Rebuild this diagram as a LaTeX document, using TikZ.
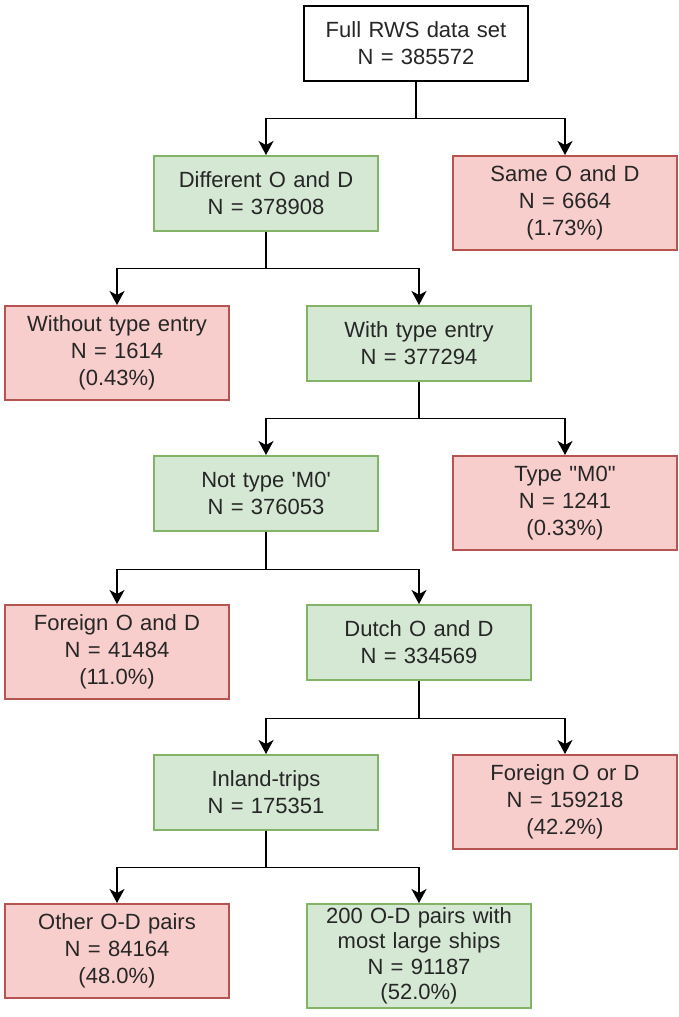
\documentclass[tikz,border=0pt]{standalone}
\usepackage{fontspec}
\setmainfont{Liberation Sans}[Ligatures=TeXOff]
\usetikzlibrary{arrows.meta}
\definecolor{okfill}{HTML}{D5E8D4}
\definecolor{okline}{HTML}{82B366}
\definecolor{dropfill}{HTML}{F8CECC}
\definecolor{dropline}{HTML}{B85450}
\definecolor{txt}{HTML}{262626}
\begin{document}
\begin{tikzpicture}[x=1pt,y=-1pt,
  box/.style={draw, line width=1.5pt, anchor=north, align=center,
    text width=210pt, inner xsep=7pt, inner ysep=1pt, text=txt,
    font=\fontsize{22}{27}\selectfont},
  plain/.style={box, fill=white, draw=black},
  keep/.style={box, fill=okfill, draw=okline},
  drop/.style={box, fill=dropfill, draw=dropline},
  two/.style={minimum height=75pt},
  three/.style={minimum height=94pt},
  four/.style={minimum height=104pt, font=\fontsize{22}{25.5}\selectfont},
  conn/.style={draw=black, line width=1.7pt,
    -{Stealth[length=14pt, width=15pt, inset=4pt]}}
]
\useasboundingbox (0,0) rectangle (678,1017);

% level 0
\node[plain, two] (full) at (416,5) {Full RWS data set\\N = 385572};
% level 1
\node[keep, two]   (diff) at (266,155) {Different O and D\\N = 378908};
\node[drop, three] (same) at (565,155) {Same O and D\\N = 6664\\(1.73\%)};
% level 2
\node[drop, three] (notype) at (117,305) {Without type entry\\N = 1614\\(0.43\%)};
\node[keep, two]   (type)   at (419,305) {With type entry\\N = 377294};
% level 3
\node[keep, two]   (notm) at (266,455) {Not type 'M0'\\N = 376053};
\node[drop, three] (mzero) at (565,455) {Type "M0"\\N = 1241\\(0.33\%)};
% level 4
\node[drop, three] (foreign) at (117,604) {Foreign O and D\\N = 41484\\(11.0\%)};
\node[keep, two]   (dutch)   at (419,604) {Dutch O and D\\N = 334569};
% level 5
\node[keep, two]   (inland) at (266,754) {Inland-trips\\N = 175351};
\node[drop, three] (ford)   at (565,754) {Foreign O or D\\N = 159218\\(42.2\%)};
% level 6
\node[drop, three] (other) at (117,903) {Other O-D pairs\\N = 84164\\(48.0\%)};
\node[keep, four]  (top)   at (419,903) {200 O-D pairs with\\most large ships\\N = 91187\\(52.0\%)};

% elbow connectors: down, across, down into each child
\draw[conn] (full.south) -- ++(0,37) -| (diff.north);
\draw[conn] (full.south) -- ++(0,37) -| (same.north);
\draw[conn] (diff.south) -- ++(0,37) -| (notype.north);
\draw[conn] (diff.south) -- ++(0,37) -| (type.north);
\draw[conn] (type.south) -- ++(0,37) -| (notm.north);
\draw[conn] (type.south) -- ++(0,37) -| (mzero.north);
\draw[conn] (notm.south) -- ++(0,38) -| (foreign.north);
\draw[conn] (notm.south) -- ++(0,38) -| (dutch.north);
\draw[conn] (dutch.south) -- ++(0,38) -| (inland.north);
\draw[conn] (dutch.south) -- ++(0,38) -| (ford.north);
\draw[conn] (inland.south) -- ++(0,37) -| (other.north);
\draw[conn] (inland.south) -- ++(0,37) -| (top.north);
\end{tikzpicture}
\end{document}
